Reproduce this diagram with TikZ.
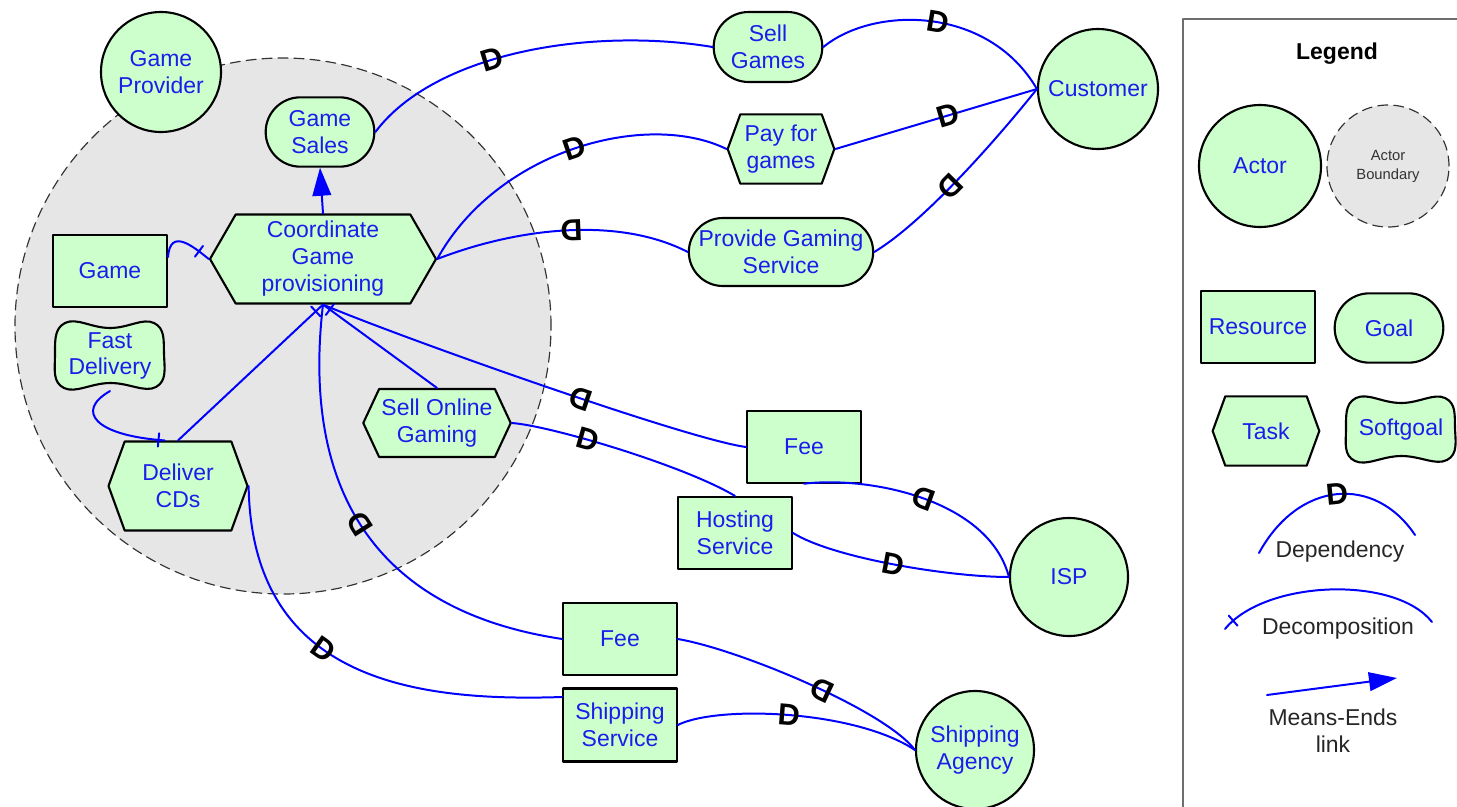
\documentclass[tikz,border=0pt]{standalone}
\usepackage{fontspec}
\setmainfont{Liberation Sans}
\usepackage{tikz}
\usetikzlibrary{shapes.symbols,shapes.misc,arrows.meta}
\definecolor{goalgreen}{RGB}{204,255,204}
\definecolor{boundgray}{RGB}{230,230,230}
\definecolor{linkblue}{RGB}{0,0,255}
\definecolor{textblue}{RGB}{28,28,235}
\definecolor{framegray}{RGB}{110,110,110}
\usepackage{xcolor}

\begin{document}
\begin{tikzpicture}[line cap=round,line join=round,x=0.015cm,y=-0.015cm,
	elem/.style={draw=black,line width=0.9pt,fill=goalgreen,text=textblue,align=center,inner sep=1pt,font=\fontsize{9.8}{11.5}\selectfont},
	actor/.style={elem,circle,minimum size=1.8cm},
	goal/.style={elem,rounded rectangle,minimum width=1.7cm,minimum height=1.04cm},
	task/.style={elem,signal,signal to=east and west,signal pointer angle=140,minimum width=1.6cm,minimum height=1.04cm},
	resource/.style={elem,rectangle,minimum width=1.71cm,minimum height=1.07cm},
	softgoal/.style={elem,draw=none,fill=none,minimum width=1.68cm,minimum height=1.02cm},
	sgblob/.style={draw=black,line width=0.9pt,fill=goalgreen},
	boundary/.style={circle,draw=black!80,dash pattern=on 0.15cm off 0.09cm,line width=0.5pt,fill=boundgray,minimum size=8.04cm},
	deplink/.style={draw=linkblue,line width=0.85pt},
	dmark/.style={sloped,allow upside down,inner sep=0pt,text=black,font=\fontsize{13}{13}\selectfont\bfseries},
	dtick/.style={sloped,allow upside down,draw=linkblue,line width=0.85pt,inner sep=0pt,minimum width=0pt,minimum height=0.2cm},
	meansend/.style={deplink,-{Triangle[length=0.42cm,width=0.28cm]}},
	legtext/.style={text=black!85,align=center,font=\fontsize{9.8}{11.5}\selectfont}]
	\useasboundingbox (0,0) rectangle (1457,807);
	\node[boundary] (bnd) at (283,326) {};
	\node[actor] (prov) at (161,72) {Game\\Provider};
	\node[goal] (sales) at (320,132) {Game\\Sales};
	\node[task,minimum width=3.39cm,minimum height=1.335cm,signal pointer angle=120] (coord) at (323,259) {Coordinate\\Game\\provisioning};
	\node[resource] (game) at (110,271) {Game};
	\filldraw[sgblob,shift={(110,356)}] plot[smooth cycle,tension=0.75] coordinates {(0,-28) (44,-33) (54,-2) (46,31) (0,27) (-46,32) (-55,0) (-45,-33)};
	\node[softgoal] (fd) at (110,356) {Fast\\Delivery};
	\node[task,minimum width=2.085cm,minimum height=1.335cm] (cds) at (178,486) {Deliver\\CDs};
	\node[task,minimum width=2.055cm,minimum height=1.02cm,signal pointer angle=130] (online) at (437,423) {Sell Online\\Gaming};
	\node[goal,minimum height=1.05cm] (sell) at (768,47) {Sell\\Games};
	\node[task] (pay) at (781,149) {Pay for\\games};
	\node[goal,minimum width=2.835cm,minimum height=1.02cm] (provide) at (781,252) {Provide Gaming\\Service};
	\node[actor] (cust) at (1098,89) {Customer};
	\node[resource] (feeisp) at (804,447) {Fee};
	\node[resource,minimum height=1.08cm] (hosting) at (735,533) {Hosting\\Service};
	\node[actor,minimum size=1.77cm] (isp) at (1069,577) {ISP};
	\node[resource,minimum width=1.7cm,minimum height=1.08cm] (feeship) at (620,639) {Fee};
	\node[resource,minimum width=1.7cm,minimum height=1.095cm] (shipserv) at (620,725) {Shipping\\Service};
	\node[actor,minimum size=1.77cm] (agency) at (975,750) {Shipping\\Agency};
	\draw[meansend] (coord.north) -- (sales.south);
	\draw[deplink] (coord.west) .. controls +(-15,-12) and +(2,-30) .. node[dtick,pos=0.2]{} ([yshift=0.21cm]game.east);
	\draw[deplink] (coord.south) -- node[dtick,pos=0.05]{} (cds.north);
	\draw[deplink] (coord.south) -- node[dtick,pos=0.06]{} (online.north);
	\draw[deplink] ([xshift=-0.2cm]cds.north) .. controls +(-70,-5) and +(-35,20) .. node[dtick,pos=0.03]{} (fd.south);
	\draw[deplink] (sales.east) .. controls +(60,-80) and +(-120,-20) .. node[dmark,pos=0.42]{D} (sell.west);
	\draw[deplink] (sell.east) .. controls +(50,-41) and +(-49,-84) .. node[dmark,pos=0.53]{D} (cust.west);
	\draw[deplink] (coord.east) .. controls +(60,-109) and +(-80,-39) .. node[dmark,pos=0.5]{D} (pay.west);
	\draw[deplink] (pay.east) -- node[dmark,pos=0.56]{D} (cust.west);
	\draw[deplink] (provide.west) .. controls +(-70,-36) and +(80,-31) .. node[dmark,pos=0.48]{D} (coord.east);
	\draw[deplink] (cust.west) .. controls +(-40,50) and +(50,-30) .. node[dmark,pos=0.55]{D} (provide.east);
	\draw[deplink] (feeisp.west) .. controls +(-60,-8) and +(70,30) .. node[dmark,pos=0.42]{D} (coord.south);
	\draw[deplink] (online.east) .. controls +(40,3) and +(-50,-30) .. node[dmark,pos=0.38]{D} (hosting.north);
	\draw[deplink] (isp.west) .. controls +(-20,-77) and +(66,-8) .. node[dmark,pos=0.5]{D} (feeisp.south);
	\draw[deplink] (hosting.east) .. controls +(40,25) and +(-60,0) .. node[dmark,pos=0.5]{D} (isp.west);
	\draw[deplink] (feeship.west) .. controls +(-200,-30) and +(-20,170) .. node[dmark,pos=0.5]{D} (coord.south);
	\draw[deplink] (cds.east) .. controls +(3,193) and +(-150,5) .. node[dmark,pos=0.42]{D} ([yshift=0.42cm]shipserv.west);
	\draw[deplink] (agency.west) .. controls +(-30,-40) and +(60,10) .. node[dmark,pos=0.45]{D} (feeship.east);
	\draw[deplink] (shipserv.east) .. controls +(40,-20) and +(-60,-40) .. node[dmark,pos=0.5]{D} (agency.west);
	% legend
	\draw[framegray,line width=0.8pt] (1520,19) -- (1183,19) -- (1183,840);
	\node[font=\fontsize{9.8}{11.5}\selectfont\bfseries] (leg) at (1337,54) {Legend};
	\node[actor,minimum size=1.83cm] (lactor) at (1260,166) {Actor};
	\node[boundary,minimum size=1.83cm,text=black!80,align=center,font=\fontsize{6.3}{8.1}\selectfont] (lbound) at (1388,166) {Actor\\Boundary};
	\node[resource] (lres) at (1258,327) {Resource};
	\node[goal] (lgoal) at (1389,328) {Goal};
	\node[task] (ltask) at (1266,431) {Task};
	\filldraw[sgblob,shift={(1401,430)}] plot[smooth cycle,tension=0.75] coordinates {(0,-27) (44,-32) (54,-2) (46,30) (0,26) (-46,31) (-55,0) (-45,-32)};
	\node[softgoal,minimum height=0.99cm] (lsoft) at (1401,430) {Softgoal};
	\coordinate (ldep1) at (1259,553);
	\coordinate (ldep2) at (1415,535);
	\draw[deplink] (ldep1) .. controls +(40,-73) and +(-40,-60) .. node[dmark,pos=0.5]{D} (ldep2);
	\node[legtext] (ldep) at (1340,552) {Dependency};
	\coordinate (ldec1) at (1225,629);
	\coordinate (ldec2) at (1432,622);
	\draw[deplink] (ldec1) .. controls +(40,-49) and +(-37,-47) .. node[dtick,pos=0.06]{} (ldec2);
	\node[legtext] (ldec) at (1338,629) {Decomposition};
	\coordinate (lme1) at (1267,695);
	\coordinate (lme2) at (1397,678);
	\draw[meansend] (lme1) -- (lme2);
	\node[legtext] (lme) at (1333,731) {Means-Ends\\link};
\end{tikzpicture}
\end{document}
